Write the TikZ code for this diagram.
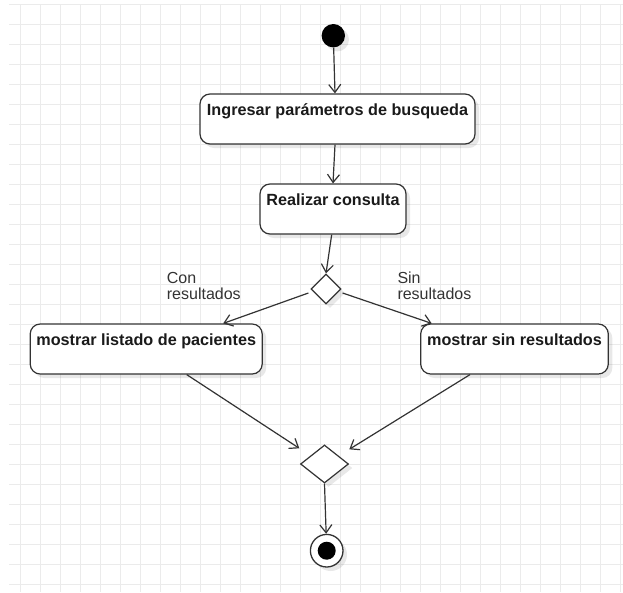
\documentclass[tikz,border=0pt]{standalone}
\usepackage{fontspec}
\setmainfont{Liberation Sans}
\usetikzlibrary{shapes.geometric,arrows.meta,shadows}

\definecolor{gridline}{HTML}{EBEBEB}
\definecolor{ink}{HTML}{333333}
\definecolor{textink}{HTML}{1A1A1A}

\begin{document}
\begin{tikzpicture}[x=1pt,y=-1pt,
  shade/.style={drop shadow={shadow xshift=4pt,shadow yshift=-4pt,fill=black,opacity=0.09}},
  action/.style={draw=ink, line width=1.2pt, fill=white, rounded corners=10pt,
    inner xsep=0pt, inner ysep=0pt, text height=21pt, text depth=29pt,
    font=\fontsize{16.2}{16}\selectfont\bfseries, text=textink, shade},
  decision/.style={shape=diamond, draw=ink, line width=1.2pt, fill=white,
    inner sep=0pt, shade},
  initial/.style={circle, fill=black, inner sep=0pt, minimum size=23.4pt, shade},
  final/.style={circle, draw=ink, line width=1.3pt, fill=white, inner sep=0pt,
    minimum size=32.6pt, shade,
    path picture={\fill[black] (path picture bounding box.center) circle (9pt);}},
  guard/.style={inner sep=0pt, align=left, text=ink,
    font=\fontsize{16}{16.3}\selectfont},
  flow/.style={draw=ink, line width=1.2pt, -{Straight Barb[length=8pt,width=12pt]}}
]
  % canvas and background grid
  \useasboundingbox (0,0) rectangle (623,592);
  \fill[white] (0,0) rectangle (623,592);
  \foreach \x in {20,40,...,620}
    \draw[gridline, line width=1pt] (\x,4) -- (\x,592);
  \foreach \y in {4.5,24.5,...,584.5}
    \draw[gridline, line width=1pt] (9,\y) -- (623,\y);

  % activity nodes
  \node[initial] (start) at (333.3,35.7) {};
  \node[action, minimum width=275pt] (b1) at (337.5,119) {Ingresar parámetros de busqueda};
  \node[action, minimum width=146pt] (b2) at (333,209) {Realizar consulta};
  \node[decision, minimum width=30pt, minimum height=30pt] (d1) at (326,289) {};
  \node[action, minimum width=232pt] (b3) at (146.2,349) {mostrar listado de pacientes};
  \node[action, minimum width=187.6pt] (b4) at (514.5,349) {mostrar sin resultados};
  \node[decision, minimum width=48pt, minimum height=38pt] (d2) at (324.5,464) {};
  \node[final] (end) at (326.7,550.7) {};

  % guard labels (base anchor sits on the last line)
  \node[guard, anchor=base west] (gcon) at (166.7,299.3) {Con\\resultados};
  \node[guard, anchor=base west] (gsin) at (397.3,299.3) {Sin\\resultados};

  % control flow
  \draw[flow] (start) -- ([xshift=-2.5pt]b1.north);
  \draw[flow] ([xshift=-2.5pt]b1.south) -- (b2.north);
  \draw[flow] ([xshift=-1.3pt]b2.south) -- (d1.north);
  \draw[flow] ([shift={(-2,4)}]d1.west) -- ([xshift=77pt]b3.north);
  \draw[flow] ([shift={(1,4)}]d1.east) -- ([xshift=-82.8pt]b4.north);
  \draw[flow] ([xshift=40.5pt]b3.south) -- ([shift={(-25.2,-15.7)}]d2.center);
  \draw[flow] ([xshift=-44.5pt]b4.south) -- ([shift={(24.8,-14.7)}]d2.center);
  \draw[flow] (d2.south) -- (end);
\end{tikzpicture}
\end{document}
